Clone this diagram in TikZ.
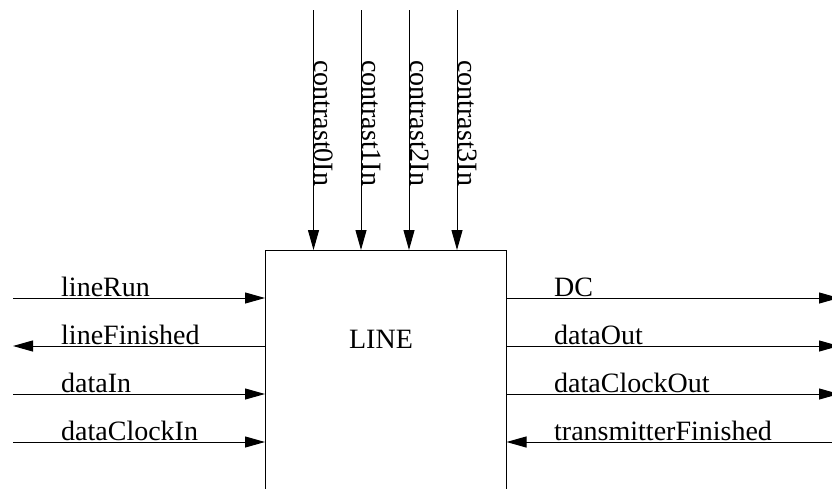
\documentclass[tikz,border=0pt]{standalone}
\usepackage{fontspec}
\setmainfont{Liberation Serif}
\usetikzlibrary{arrows.meta,calc}

\begin{document}
\begin{tikzpicture}[x=1pt,y=-1pt,
  wire/.style={line width=1pt,-{Triangle[length=20pt,width=11pt]}},
  sig/.style={font=\fontsize{28}{34}\selectfont,inner sep=0pt,anchor=base west},
  block/.style={draw,line width=1pt,minimum width=240.5pt,minimum height=300pt,inner sep=0pt}
]
\clip (0,0) rectangle (832,488);

% the LINE block (its lower edge lies below the frame)
\node[block,anchor=north west] (blk) at (265,250) {};
\node[sig,anchor=base] (title) at (381,348) {LINE};

% contrast inputs from above
\foreach \x/\n in {313.5/0,361/1,409/2,457/3}{
  \coordinate (c\n) at (\x,10);
  \draw[wire] (c\n) -- (c\n |- blk.north);
  \node[sig,rotate=-90] (lc\n) at (\x+1,60) {contrast\n In};
}

% left side signals
\foreach \y/\n in {298/1,346/2,394/3,442/4}{
  \coordinate (w\n) at (13,\y);
}
\draw[wire] (w1) -- (w1 -| blk.west);
\draw[wire] (w2 -| blk.west) -- (w2);
\draw[wire] (w3) -- (w3 -| blk.west);
\draw[wire] (w4) -- (w4 -| blk.west);
\node[sig] (lw1) at (61,296) {lineRun};
\node[sig] (lw2) at (61,344) {lineFinished};
\node[sig] (lw3) at (61,392) {dataIn};
\node[sig] (lw4) at (61,440) {dataClockIn};

% right side signals
\foreach \y/\n in {298/1,346/2,394/3,442/4}{
  \coordinate (e\n) at (839,\y);
}
\draw[wire] (e1 -| blk.east) -- (e1);
\draw[wire] (e2 -| blk.east) -- (e2);
\draw[wire] (e3 -| blk.east) -- (e3);
\draw[wire] (e4) -- (e4 -| blk.east);
\node[sig] (le1) at (554,296) {DC};
\node[sig] (le2) at (554,344) {dataOut};
\node[sig] (le3) at (554,392) {dataClockOut};
\node[sig] (le4) at (554,440) {transmitterFinished};
\end{tikzpicture}
\end{document}
